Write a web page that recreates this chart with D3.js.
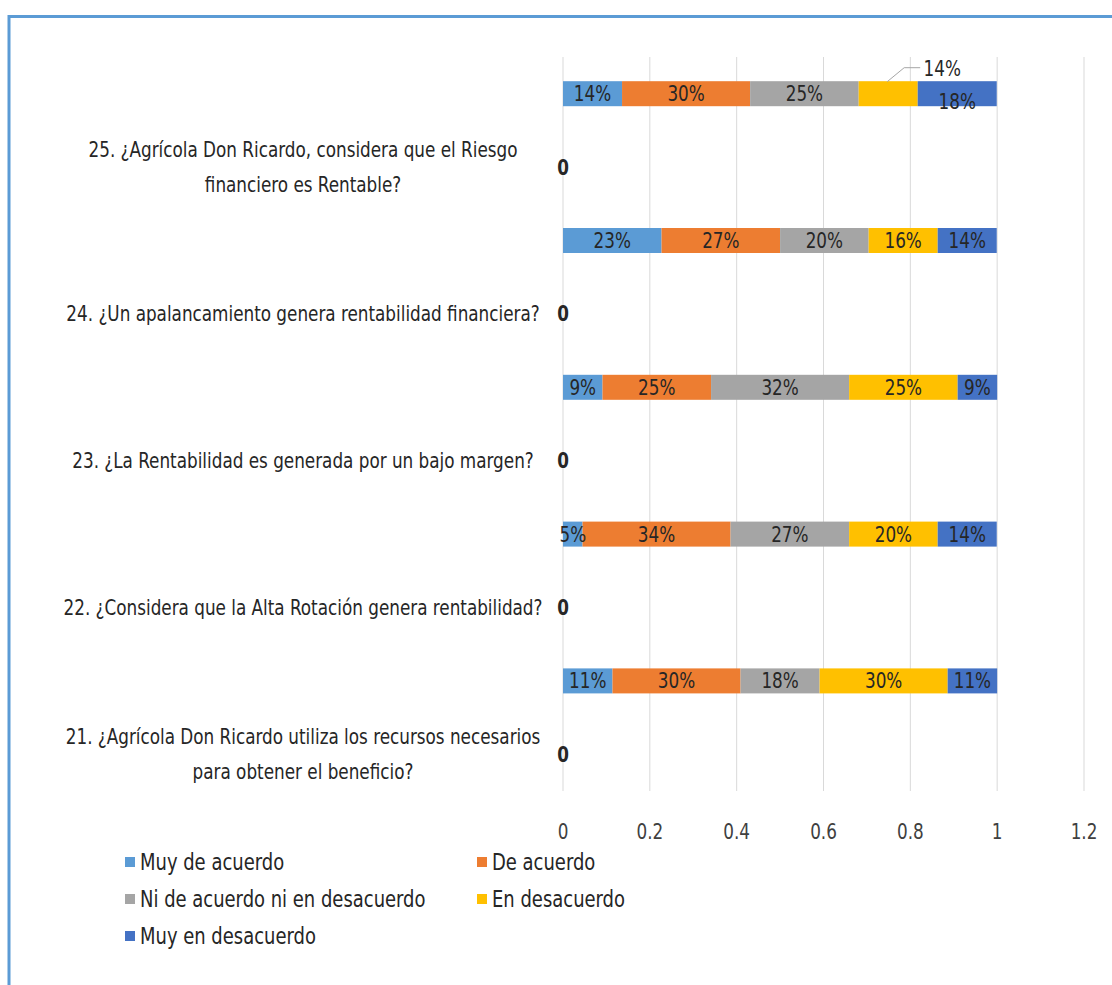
<!DOCTYPE html>
<html>
<head>
<meta charset="utf-8">
<script src="https://cdn.jsdelivr.net/npm/d3@7"></script>
<style>
  html, body { margin: 0; padding: 0; background: #ffffff; }
  svg { display: block; }
  text { font-family: "DejaVu Sans Condensed", "Liberation Sans Narrow", sans-serif; }
</style>
</head>
<body>
<svg id="chart" width="1112" height="985"></svg>
<script>
// Survey questions, listed top to bottom
const categories = ["25", "24", "23", "22", "21"];
const categoryLabels = [
  ["25. ¿Agrícola Don Ricardo, considera que el Riesgo", "financiero es Rentable?"],
  ["24. ¿Un apalancamiento genera rentabilidad financiera?"],
  ["23. ¿La Rentabilidad es generada por un bajo margen?"],
  ["22. ¿Considera que la Alta Rotación genera rentabilidad?"],
  ["21. ¿Agrícola Don Ricardo utiliza los recursos necesarios", "para obtener el beneficio?"]
];

// Response options (stack order, left to right)
const seriesNames = [
  "Muy de acuerdo",
  "De acuerdo",
  "Ni de acuerdo ni en desacuerdo",
  "En desacuerdo",
  "Muy en desacuerdo"
];
const seriesColors = ["#5B9BD5", "#ED7D31", "#A5A5A5", "#FFC000", "#4472C4"];

// Share of answers per option, one array per option, in category order
const muyDeAcuerdo     = [0.136, 0.227, 0.091, 0.045, 0.114];
const deAcuerdo        = [0.295, 0.273, 0.250, 0.341, 0.295];
const niNi             = [0.250, 0.204, 0.318, 0.273, 0.182];
const enDesacuerdo     = [0.136, 0.159, 0.250, 0.204, 0.295];
const muyEnDesacuerdo  = [0.182, 0.136, 0.091, 0.136, 0.114];

// Companion series plotted as a zero-length bar under each question
const zeroSeries = [0, 0, 0, 0, 0];

const xTicks = [0, 0.2, 0.4, 0.6, 0.8, 1, 1.2];

const seriesValues = [muyDeAcuerdo, deAcuerdo, niNi, enDesacuerdo, muyEnDesacuerdo];

const svg = d3.select("#chart");
const FONT_SIZE = 22;
const SQUEEZE = 0.85;   // horizontal compression of all lettering

// Places a horizontally compressed text whose anchor sits at (x, y)
function addText(parent, x, y, str, opts = {}) {
  const g = parent.append("g")
    .attr("transform", `translate(${x},${y}) scale(${SQUEEZE},1)`);
  return g.append("text")
    .attr("x", 0).attr("y", 0)
    .attr("text-anchor", opts.anchor || "middle")
    .attr("dominant-baseline", "central")
    .attr("font-size", opts.size || FONT_SIZE)
    .attr("font-weight", opts.weight || "normal")
    .attr("fill", opts.fill || "#262626")
    .text(str);
}

// Outer frame
svg.append("rect")
  .attr("x", 9).attr("y", 16.5)
  .attr("width", 1120).attr("height", 1000)
  .attr("fill", "none")
  .attr("stroke", "#5B9BD5")
  .attr("stroke-width", 3);

const x = d3.scaleLinear().domain([0, 1.2]).range([563, 1084]);
const y = d3.scaleBand().domain(categories).range([57, 791]).paddingInner(0).paddingOuter(0);
const ySub = d3.scaleBand().domain(["stack", "zero"]).range([0, y.bandwidth()]);
const barH = 25;

// Vertical gridlines
svg.append("g")
  .selectAll("line")
  .data(xTicks)
  .join("line")
  .attr("x1", d => x(d)).attr("x2", d => x(d))
  .attr("y1", 57).attr("y2", 791)
  .attr("stroke", "#d9d9d9")
  .attr("stroke-width", 1);

// X axis tick labels
const tickFmt = d3.format("~g");
const gx = svg.append("g");
xTicks.forEach(t => addText(gx, x(t), 831, tickFmt(t), { fill: "#404040" }));

// Stacked data
const rows = categories.map((c, i) => {
  const r = { cat: c };
  seriesNames.forEach((s, j) => { r[s] = seriesValues[j][i]; });
  return r;
});
const stacked = d3.stack().keys(seriesNames)(rows);

const barsG = svg.append("g");
stacked.forEach((layer, j) => {
  barsG.append("g")
    .attr("fill", seriesColors[j])
    .selectAll("rect")
    .data(layer)
    .join("rect")
    .attr("x", d => x(d[0]))
    .attr("width", d => x(d[1]) - x(d[0]))
    .attr("y", d => y(d.data.cat) + ySub("stack") + ySub.bandwidth() / 2 - barH / 2)
    .attr("height", barH);
});

// Data labels, centred in each segment (two labels on the top bar are moved aside)
const pct = d3.format(".0%");
const labelG = svg.append("g");
stacked.forEach((layer, j) => {
  layer.forEach(d => {
    const cx = (x(d[0]) + x(d[1])) / 2;
    const cy = y(d.data.cat) + ySub("stack") + ySub.bandwidth() / 2;
    let lx = cx, ly = cy;
    if (d.data.cat === "25" && j === 3) {
      lx = cx + 54; ly = cy - 25;
      labelG.append("polyline")
        .attr("points", `${cx - 1},${cy - 12} ${cx + 16},${cy - 26} ${cx + 32},${cy - 26}`)
        .attr("fill", "none")
        .attr("stroke", "#a6a6a6")
        .attr("stroke-width", 1);
    }
    if (d.data.cat === "25" && j === 4) {
      ly = cy + 8;
    }
    addText(labelG, lx, ly, pct(d.data[seriesNames[j]]));
  });
});

// Zero-length companion bars and their labels
const zeroG = svg.append("g");
zeroSeries.forEach((v, i) => {
  const cy = y(categories[i]) + ySub("zero") + ySub.bandwidth() / 2;
  addText(zeroG, x(v), cy, d3.format("d")(v), { weight: "bold" });
});

// Category labels, centred in the lower half of each band
const catG = svg.append("g");
categories.forEach((c, i) => {
  const lines = categoryLabels[i];
  const cy = y(c) + ySub("zero") + ySub.bandwidth() / 2;
  const lh = 35;
  lines.forEach((ln, k) => {
    addText(catG, 303, cy + (k - (lines.length - 1) / 2) * lh, ln);
  });
});

// Legend
const legendPos = [
  { x: 125, y: 862 }, { x: 477, y: 862 },
  { x: 125, y: 899 }, { x: 477, y: 899 },
  { x: 125, y: 936 }
];
const lg = svg.append("g");
seriesNames.forEach((s, j) => {
  const p = legendPos[j];
  lg.append("rect")
    .attr("x", p.x).attr("y", p.y - 5)
    .attr("width", 10).attr("height", 10)
    .attr("fill", seriesColors[j]);
  addText(lg, p.x + 15, p.y, s, { anchor: "start", size: 23.5 });
});
</script>
</body>
</html>
